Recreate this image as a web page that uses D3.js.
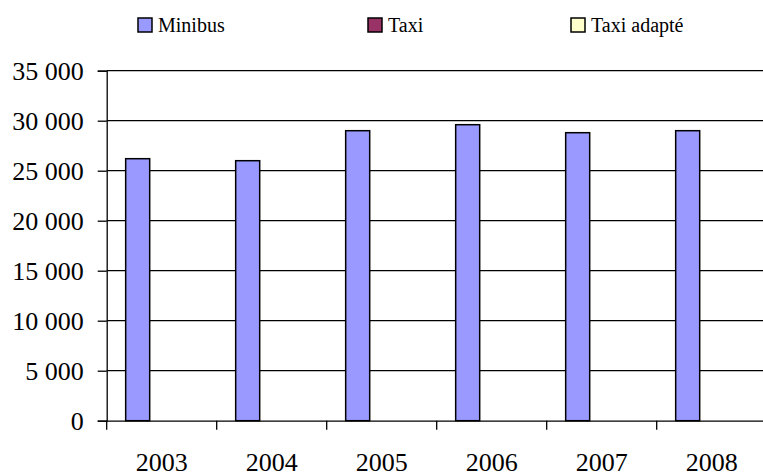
<!DOCTYPE html>
<html>
<head>
<meta charset="utf-8">
<script src="https://cdn.jsdelivr.net/npm/d3@7"></script>
<style>
  body { margin: 0; background: #fff; }
  svg { display: block; }
</style>
</head>
<body>
<div id="chart"></div>
<script>
var w = 763, h = 473;
var serif = "'Liberation Serif', 'Times New Roman', Times, 'DejaVu Serif', serif";

var years = ["2003", "2004", "2005", "2006", "2007", "2008"];
var seriesNames = ["Minibus", "Taxi", "Taxi adapté"];
var minibus = [26200, 26000, 29000, 29600, 28800, 29000];
var taxi = [0, 0, 0, 0, 0, 0];
var taxiAdapte = [0, 0, 0, 0, 0, 0];
var yTicks = [0, 5000, 10000, 15000, 20000, 25000, 30000, 35000];

var colors = {"Minibus": "#9999ff", "Taxi": "#993366", "Taxi adapté": "#ffffcc"};
var values = {"Minibus": minibus, "Taxi": taxi, "Taxi adapté": taxiAdapte};

// plot area (note: "top" is reserved on window, so use plot* names)
var plotLeft = 106.7, plotRight = 766.7, plotTop = 70.7, plotBottom = 420.7;

var svg = d3.select("#chart").append("svg")
    .attr("width", w)
    .attr("height", h);

var x = d3.scaleBand().domain(years).range([plotLeft, plotRight]).paddingInner(0).paddingOuter(0);
var xs = d3.scaleBand().domain(seriesNames).range([0, x.bandwidth()]).paddingInner(0).paddingOuter(0.79);
var y = d3.scaleLinear().domain([0, 35000]).range([plotBottom, plotTop]);

// gridlines
svg.append("g").selectAll("line")
    .data(yTicks.filter(function(d){ return d > 0; }))
    .enter().append("line")
    .attr("x1", plotLeft).attr("x2", plotRight)
    .attr("y1", function(d){ return y(d); })
    .attr("y2", function(d){ return y(d); })
    .style("stroke", "#000")
    .style("stroke-width", 1.3);

// bars
var rows = [];
years.forEach(function(yr, i){
    seriesNames.forEach(function(s){
        rows.push({year: yr, series: s, value: values[s][i]});
    });
});

svg.append("g").selectAll("rect")
    .data(rows.filter(function(d){ return d.value > 0; }))
    .enter().append("rect")
    .attr("x", function(d){ return x(d.year) + xs(d.series); })
    .attr("width", xs.bandwidth())
    .attr("y", function(d){ return y(d.value); })
    .attr("height", function(d){ return y(0) - y(d.value); })
    .style("fill", function(d){ return colors[d.series]; })
    .style("stroke", "#000")
    .style("stroke-width", 1.5);

// y axis
var fmt = function(d){ return d3.format(",")(d).replace(/,/g, " "); };
var yAxis = svg.append("g")
    .attr("transform", "translate(" + plotLeft + ",0)")
    .call(d3.axisLeft(y).tickValues(yTicks).tickSize(9).tickPadding(14).tickFormat(fmt));
yAxis.attr("font-family", serif);
yAxis.selectAll("text")
    .style("font-family", serif)
    .style("font-size", "26px")
    .style("fill", "#000")
    .attr("dy", "0.34em");
yAxis.selectAll("line, path").style("stroke", "#000").style("stroke-width", 1.3);

// x axis
var xAxis = svg.append("g")
    .attr("transform", "translate(0," + plotBottom + ")")
    .call(d3.axisBottom(x).tickSize(0).tickPadding(32));
xAxis.attr("font-family", serif);
xAxis.select(".domain").style("stroke", "#000").style("stroke-width", 1.3);
xAxis.selectAll("text")
    .style("font-family", serif)
    .style("font-size", "26px")
    .style("fill", "#000")
    .attr("dy", "0.71em");

// ticks between categories
svg.append("g").selectAll("line")
    .data(years)
    .enter().append("line")
    .attr("x1", function(d){ return x(d); })
    .attr("x2", function(d){ return x(d); })
    .attr("y1", plotBottom).attr("y2", plotBottom + 9)
    .style("stroke", "#000")
    .style("stroke-width", 1.3);

// legend
var legendX = [138, 368, 571];
var legend = svg.append("g").selectAll("g")
    .data(seriesNames)
    .enter().append("g")
    .attr("transform", function(d, i){ return "translate(" + legendX[i] + ",18)"; });
legend.append("rect")
    .attr("width", 14).attr("height", 14)
    .style("fill", function(d){ return colors[d]; })
    .style("stroke", "#000")
    .style("stroke-width", 1.5);
legend.append("text")
    .attr("x", 20).attr("y", 14)
    .style("font-family", serif)
    .style("font-size", "20px")
    .style("fill", "#000")
    .text(function(d){ return d; });
</script>
</body>
</html>
